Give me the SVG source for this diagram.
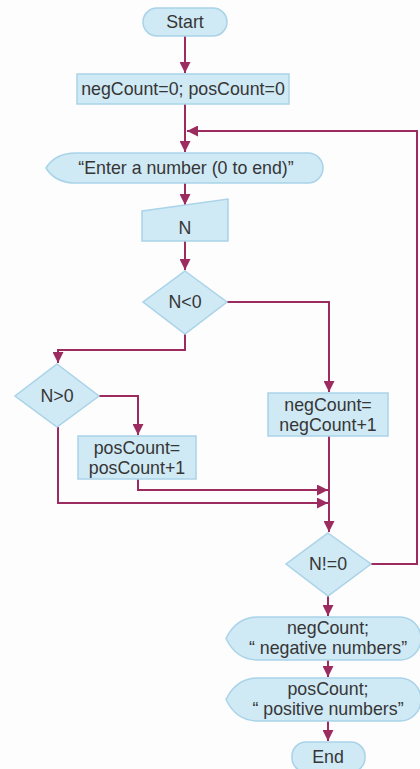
<svg xmlns="http://www.w3.org/2000/svg" width="420" height="769" viewBox="0 0 420 769">
<style>
.s{fill:#cfe9f5;stroke:#a9d3e8;stroke-width:1.5}
.t{font-family:"Liberation Sans",Arial,sans-serif;font-size:17.8px;fill:#363636;text-anchor:middle}
.c{fill:none;stroke:#9c2b60;stroke-width:2}
</style>
<defs>
<marker id="a" viewBox="0 0 10 10" refX="10" refY="5" markerWidth="5.5" markerHeight="5.5" orient="auto" markerUnits="strokeWidth">
<path d="M0,0 L10,5 L0,10 Z" fill="#9c2b60"/>
</marker>
</defs>
<rect width="420" height="769" fill="#fdfdfd"/>
<g id="connectors">
<path class="c" d="M185,36 V73" marker-end="url(#a)"/>
<path class="c" d="M185,104 V152" marker-end="url(#a)"/>
<path class="c" d="M185,183 V205" marker-end="url(#a)"/>
<path class="c" d="M185,241 V270" marker-end="url(#a)"/>
<path class="c" d="M227,302 H329 V392" marker-end="url(#a)"/>
<path class="c" d="M185,334 V350 H58 V363" marker-end="url(#a)"/>
<path class="c" d="M99,396 H138 V435" marker-end="url(#a)"/>
<path class="c" d="M138,479 V490 H328" marker-end="url(#a)"/>
<path class="c" d="M58,427 V503 H328" marker-end="url(#a)"/>
<path class="c" d="M329,436 V532" marker-end="url(#a)"/>
<path class="c" d="M371,564 H417 V131 H187" marker-end="url(#a)"/>
<path class="c" d="M328,596 V616" marker-end="url(#a)"/>
<path class="c" d="M328,660 V677" marker-end="url(#a)"/>
<path class="c" d="M328,721 V741" marker-end="url(#a)"/>
</g>
<g id="start">
<rect class="s" x="143" y="8" width="84" height="28" rx="14"/>
<text class="t" x="185" y="28">Start</text>
</g>
<g id="init">
<rect class="s" x="77" y="74" width="212" height="30"/>
<text class="t" x="183" y="95">negCount=0; posCount=0</text>
</g>
<g id="prompt">
<path class="s" d="M46,168 C52,158 62,153 76,153 L308,153 A15,15 0 0 1 308,183 L76,183 C62,183 52,178 46,168 Z"/>
<text class="t" x="186" y="174">“Enter a number (0 to end)”</text>
</g>
<g id="inputN">
<path class="s" d="M142,211 L228,199 V241 H142 Z"/>
<text class="t" x="185" y="234">N</text>
</g>
<g id="decNeg">
<path class="s" d="M185,271 L227,302 L185,334 L143,302 Z"/>
<text class="t" x="185" y="308">N&lt;0</text>
</g>
<g id="decPos">
<path class="s" d="M57,364 L99,396 L57,427 L15,396 Z"/>
<text class="t" x="57" y="402">N&gt;0</text>
</g>
<g id="negInc">
<rect class="s" x="268" y="393" width="120" height="43"/>
<text class="t" x="328" y="411">negCount=</text>
<text class="t" x="328" y="431">negCount+1</text>
</g>
<g id="posInc">
<rect class="s" x="78" y="436" width="118" height="43"/>
<text class="t" x="137" y="454">posCount=</text>
<text class="t" x="137" y="474">posCount+1</text>
</g>
<g id="decNZ">
<path class="s" d="M328,533 L371,564 L328,596 L286,564 Z"/>
<text class="t" x="328" y="570">N!=0</text>
</g>
<g id="outNeg">
<path class="s" d="M226,638.5 C233,624 243,617 258,617 L400,617 A21,21.5 0 0 1 400,660 L258,660 C243,660 233,653 226,638.5 Z"/>
<text class="t" x="328" y="634">negCount;</text>
<text class="t" x="328" y="654">“ negative numbers”</text>
</g>
<g id="outPos">
<path class="s" d="M226,699.5 C233,685 243,678 258,678 L400,678 A21,21.5 0 0 1 400,721 L258,721 C243,721 233,714 226,699.5 Z"/>
<text class="t" x="328" y="695">posCount;</text>
<text class="t" x="328" y="715">“ positive numbers”</text>
</g>
<g id="end">
<rect class="s" x="292" y="742" width="73" height="30" rx="14"/>
<text class="t" x="328" y="763">End</text>
</g>
</svg>
